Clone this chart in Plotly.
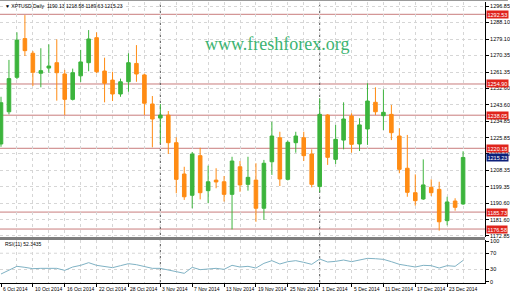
import plotly.graph_objects as go

# ---------------- data ----------------
bar_index = list(range(59))
date_labels = ["6 Oct 2014", "10 Oct 2014", "16 Oct 2014", "22 Oct 2014", "28 Oct 2014",
               "3 Nov 2014", "7 Nov 2014", "13 Nov 2014", "19 Nov 2014", "25 Nov 2014",
               "1 Dec 2014", "5 Dec 2014", "11 Dec 2014", "17 Dec 2014", "23 Dec 2014"]
date_label_index = [0, 4, 8, 12, 16, 20, 24, 28, 32, 36, 40, 44, 48, 52, 56]
month_start_index = [20, 40]

opens = [1222.5, 1239.9, 1258.5, 1279.4, 1271.5, 1260.7, 1263.5, 1266.4, 1260.3, 1246.6,
         1259.3, 1266.4, 1279.9, 1261.9, 1257.0, 1249.5, 1256.1, 1266.0, 1259.8, 1244.1,
         1236.5, 1238.1, 1223.2, 1206.3, 1194.8, 1216.2, 1197.3, 1203.0, 1202.1, 1195.3,
         1210.2, 1200.7, 1203.0, 1187.8, 1212.9, 1225.9, 1203.4, 1223.2, 1225.9, 1217.1,
         1199.5, 1238.1, 1214.2, 1224.6, 1237.6, 1222.5, 1230.6, 1245.0, 1237.8, 1238.5,
         1226.8, 1209.4, 1196.2, 1192.8, 1199.1, 1198.0, 1181.1, 1191.7, 1190.13]
highs = [1248.0, 1267.9, 1282.8, 1292.1, 1272.7, 1274.2, 1276.3, 1279.0, 1262.5, 1263.2,
         1273.3, 1284.0, 1282.8, 1269.1, 1261.5, 1257.8, 1271.5, 1275.9, 1260.5, 1248.4,
         1244.1, 1240.3, 1226.1, 1210.2, 1218.2, 1220.5, 1210.8, 1209.4, 1205.2, 1215.6,
         1213.3, 1215.6, 1212.1, 1213.9, 1234.5, 1229.1, 1224.3, 1229.1, 1229.1, 1219.6,
         1247.2, 1238.6, 1232.8, 1245.0, 1239.1, 1236.4, 1255.3, 1253.1, 1252.0, 1243.6,
         1231.0, 1227.4, 1206.1, 1214.2, 1203.4, 1202.1, 1194.0, 1193.2, 1218.58]
lows = [1221.0, 1238.5, 1257.5, 1270.0, 1253.8, 1253.1, 1261.0, 1245.9, 1238.1, 1246.0,
        1256.0, 1261.8, 1260.7, 1245.0, 1245.7, 1248.0, 1250.7, 1256.1, 1238.1, 1220.7,
        1222.9, 1217.1, 1195.9, 1192.3, 1187.8, 1192.6, 1190.5, 1198.6, 1191.4, 1176.4,
        1196.7, 1197.3, 1180.5, 1181.5, 1205.8, 1199.8, 1202.8, 1217.8, 1213.3, 1199.1,
        1196.5, 1211.2, 1211.7, 1219.6, 1217.8, 1218.7, 1222.0, 1238.1, 1230.0, 1224.6,
        1206.7, 1194.0, 1189.2, 1192.3, 1194.4, 1175.7, 1178.6, 1186.5, 1189.63]
closes = [1244.8, 1257.8, 1278.6, 1272.9, 1261.2, 1262.1, 1264.6, 1261.0, 1246.6, 1261.0,
          1266.8, 1279.2, 1261.5, 1255.3, 1249.5, 1256.1, 1266.4, 1260.3, 1244.5, 1236.0,
          1238.1, 1223.2, 1203.4, 1194.0, 1217.1, 1196.2, 1202.1, 1202.0, 1195.3, 1213.3,
          1200.4, 1204.5, 1187.8, 1212.1, 1226.8, 1203.6, 1223.4, 1226.8, 1216.2, 1200.7,
          1238.5, 1215.3, 1225.0, 1236.0, 1222.3, 1232.8, 1245.7, 1239.9, 1239.6, 1228.6,
          1208.8, 1196.4, 1191.9, 1200.4, 1196.2, 1180.5, 1191.2, 1188.3, 1215.23]

rsi_values = [18.9, 27.9, 37.8, 35.3, 32.0, 32.8, 33.6, 32.8, 27.9, 36.1,
              40.2, 46.8, 40.2, 36.9, 34.5, 39.4, 44.3, 41.8, 37.8, 32.8,
              32.8, 29.6, 24.7, 20.6, 35.3, 29.6, 32.0, 32.8, 30.4, 40.2,
              36.1, 37.8, 33.6, 45.1, 51.7, 43.5, 49.2, 51.7, 47.6, 42.7,
              55.8, 48.4, 50.0, 53.3, 49.2, 54.1, 57.4, 56.5, 54.9, 49.2,
              42.7, 39.4, 36.1, 40.2, 39.4, 33.6, 39.4, 37.8, 52.34]

price_ticks = [1172.85, 1181.60, 1190.60, 1199.35, 1208.35, 1217.10, 1225.85, 1234.85,
               1243.60, 1252.60, 1261.35, 1270.35, 1279.10, 1288.10, 1296.85]
rsi_ticks = [0, 30, 70, 100]
level_lines = [1292.53, 1254.90, 1238.05, 1220.18, 1185.73, 1176.58]
current_price = 1215.23

title_text = "XPTUSD,Daily  1190.13 1218.58 1189.63 1215.23"
rsi_title = "RSI(11) 52.3435"
watermark = "www.freshforex.org"

# ---------------- styling ----------------
GREEN = "#3cb43c"
ORANGE = "#ff8c14"
LEVEL = "#c87c7c"
GRID = "#d6d6d6"
FONT = "Liberation Sans"

H_PLOT = 281.0          # plot area height in px (296 - t2 - b13)
main_dom = [(283 - 237) / H_PLOT, 1.0]
rsi_dom = [0.0, (283 - 240) / H_PLOT]
x_range = [-0.125, 60.75]

fig = go.Figure()

fig.add_trace(go.Candlestick(
    x=bar_index, open=opens, high=highs, low=lows, close=closes,
    increasing=dict(line=dict(color=GREEN, width=1), fillcolor=GREEN),
    decreasing=dict(line=dict(color=ORANGE, width=1), fillcolor=ORANGE),
    whiskerwidth=0, xaxis="x", yaxis="y", hoverinfo="skip", showlegend=False))

fig.add_trace(go.Scatter(
    x=bar_index, y=rsi_values, mode="lines",
    line=dict(color="#7fb2c4", width=1), xaxis="x2", yaxis="y2",
    hoverinfo="skip", showlegend=False))

shapes = []
for lv in level_lines:
    shapes.append(dict(type="line", xref="paper", yref="y", x0=0, x1=1, y0=lv, y1=lv,
                       line=dict(color=LEVEL, width=1), layer="below"))
for ms in month_start_index:
    shapes.append(dict(type="line", xref="x", yref="paper", x0=ms, x1=ms, y0=0, y1=1,
                       line=dict(color="#555555", width=1, dash="dot"), layer="below"))
# separator between panels
shapes.append(dict(type="rect", xref="paper", yref="paper", x0=0, x1=1,
                   y0=(283 - 240) / H_PLOT, y1=(283 - 237) / H_PLOT,
                   fillcolor="#7f7f7f", line=dict(width=0)))
# top border
shapes.append(dict(type="line", xref="paper", yref="paper", x0=0, x1=1 + 23 / 487,
                   y0=(283 - 0.5) / H_PLOT, y1=(283 - 0.5) / H_PLOT,
                   line=dict(color="#9a9a9a", width=1)))
# RSI level lines
for lv in [30, 70]:
    shapes.append(dict(type="line", xref="paper", yref="y2", x0=0, x1=1, y0=lv, y1=lv,
                       line=dict(color=GRID, width=1, dash="dot"), layer="below"))

annotations = []
for lv in level_lines:
    annotations.append(dict(xref="paper", yref="y", x=1, y=lv, xanchor="left", yanchor="middle",
                            xshift=1, text=f"{lv:.2f}", showarrow=False, bgcolor="#e0241c",
                            borderpad=0.5, font=dict(family=FONT, size=5.5, color="white")))
annotations.append(dict(xref="paper", yref="y", x=1, y=current_price, xanchor="left",
                        yanchor="middle", xshift=1, text=f"{current_price:.2f}", showarrow=False,
                        bgcolor="#0c1f7a", borderpad=0.5,
                        font=dict(family=FONT, size=5.5, color="white")))
for i, lab in zip(date_label_index, date_labels):
    annotations.append(dict(xref="x2", yref="paper", x=i, y=-(289 - 283) / H_PLOT,
                            xanchor="left", yanchor="middle", text=lab, showarrow=False,
                            font=dict(family=FONT, size=5, color="black")))
annotations.append(dict(xref="paper", yref="paper", x=3 / 487, y=(283 - 6) / H_PLOT,
                        xanchor="left", yanchor="middle", showarrow=False,
                        text="\u25BC " + title_text,
                        font=dict(family=FONT, size=5, color="black")))
annotations.append(dict(xref="paper", yref="paper", x=3 / 487, y=(283 - 243.5) / H_PLOT,
                        xanchor="left", yanchor="middle", showarrow=False, text=rsi_title,
                        font=dict(family=FONT, size=5, color="black")))
annotations.append(dict(xref="paper", yref="paper", x=278 / 487, y=(283 - 44) / H_PLOT,
                        xanchor="center", yanchor="middle", showarrow=False, text=watermark,
                        font=dict(family="Liberation Serif", size=18, color="#3cb371")))

fig.update_layout(
    width=510, height=296,
    margin=dict(l=0, r=23, t=2, b=13),
    paper_bgcolor="white", plot_bgcolor="white",
    boxgap=0.36,
    showlegend=False,
    shapes=shapes, annotations=annotations,
    xaxis=dict(domain=[0, 1], range=x_range, anchor="y", showticklabels=False,
               tickvals=list(range(0, 60, 2)), ticks="", showgrid=True, gridcolor=GRID,
               griddash="dot", gridwidth=1, zeroline=False, showline=False,
               rangeslider=dict(visible=False), fixedrange=True),
    yaxis=dict(domain=main_dom, range=[1172.28, 1299.17], side="right", anchor="x",
               tickvals=price_ticks, ticktext=[f"{v:.2f}" for v in price_ticks],
               ticks="outside", ticklen=3, tickcolor="black", showline=True,
               linecolor="black", linewidth=1, showgrid=True, gridcolor=GRID, griddash="dot",
               zeroline=False, tickfont=dict(family=FONT, size=5.5, color="black")),
    xaxis2=dict(domain=[0, 1], range=x_range, anchor="y2", showticklabels=False,
                tickvals=date_label_index, ticks="outside", ticklen=3, tickcolor="black",
                showline=True, linecolor="black", linewidth=1, showgrid=True,
                gridcolor=GRID, griddash="dot", zeroline=False,
                minor=dict(tickvals=list(range(2, 60, 4)), showgrid=True, gridcolor=GRID,
                           griddash="dot", ticks="")),
    yaxis2=dict(domain=rsi_dom, range=[-3.2, 102.5], side="right", anchor="x2",
                tickvals=rsi_ticks, ticks="outside", ticklen=3, tickcolor="black",
                showline=True, linecolor="black", linewidth=1, showgrid=False,
                zeroline=False, tickfont=dict(family=FONT, size=5.5, color="black")),
)

fig.write_html("out.html")
